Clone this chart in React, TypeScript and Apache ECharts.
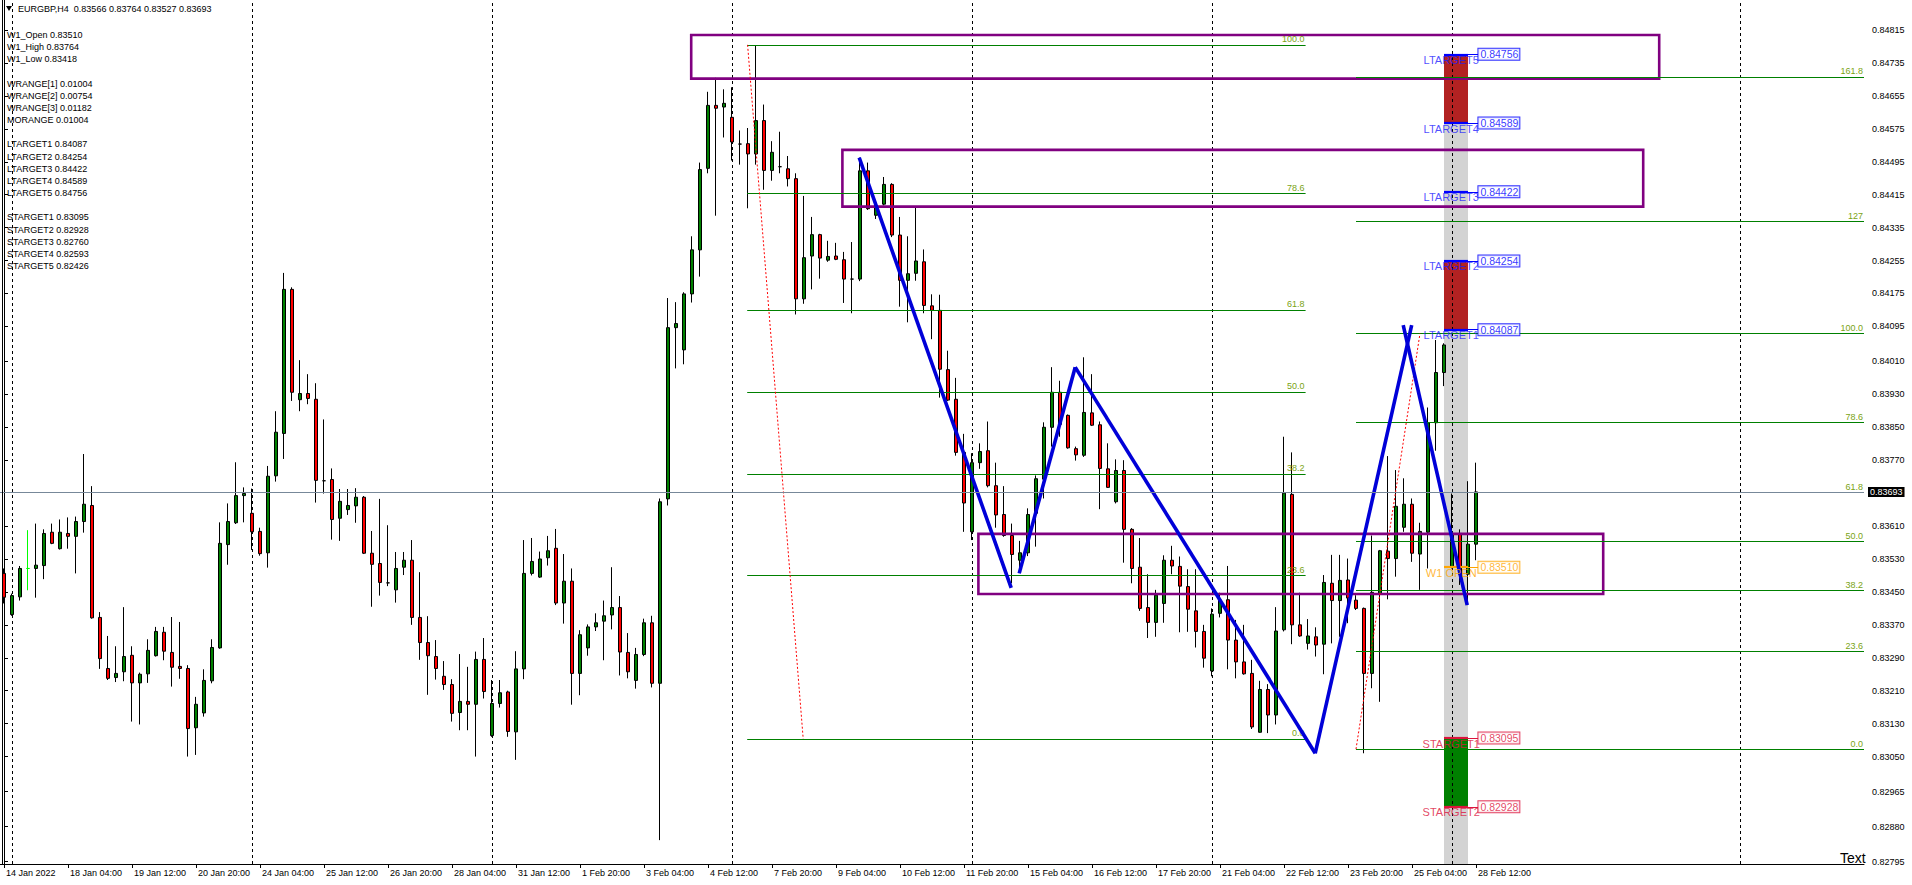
import React, { useEffect, useRef } from "react";
import * as echarts from "echarts";

const FONT = "'Liberation Sans', Arial, sans-serif";

// ---------- texts ----------
const headerText = "EURGBP,H4  0.83566 0.83764 0.83527 0.83693";
const infoLines = [
  "W1_Open 0.83510", "W1_High 0.83764", "W1_Low 0.83418", "",
  "WRANGE[1] 0.01004", "WRANGE[2] 0.00754", "WRANGE[3] 0.01182", "MORANGE 0.01004", "",
  "LTARGET1 0.84087", "LTARGET2 0.84254", "LTARGET3 0.84422", "LTARGET4 0.84589", "LTARGET5 0.84756", "",
  "STARGET1 0.83095", "STARGET2 0.82928", "STARGET3 0.82760", "STARGET4 0.82593", "STARGET5 0.82426",
];

// ---------- axes ----------
const xTickLabels = [
  "14 Jan 2022", "18 Jan 04:00", "19 Jan 12:00", "20 Jan 20:00", "24 Jan 04:00", "25 Jan 12:00",
  "26 Jan 20:00", "28 Jan 04:00", "31 Jan 12:00", "1 Feb 20:00", "3 Feb 04:00", "4 Feb 12:00",
  "7 Feb 20:00", "9 Feb 04:00", "10 Feb 12:00", "11 Feb 20:00", "15 Feb 04:00", "16 Feb 12:00",
  "17 Feb 20:00", "21 Feb 04:00", "22 Feb 12:00", "23 Feb 20:00", "25 Feb 04:00", "28 Feb 12:00",
];
const TICK_EVERY = 8;
const SLOT_COUNT = 233; // 185 bars + empty space on the right
const yTickValues = [
  0.84815, 0.84735, 0.84655, 0.84575, 0.84495, 0.84415, 0.84335, 0.84255, 0.84175, 0.84095,
  0.8401, 0.8393, 0.8385, 0.8377, 0.8361, 0.8353, 0.8345, 0.8337, 0.8329, 0.8321,
  0.8313, 0.8305, 0.82965, 0.8288, 0.82795,
];
const Y_MIN = 0.82789;
const Y_MAX = 0.84888;
const lastPrice = 0.83693;

// ---------- OHLC (H4 bars, 14 Jan 2022 20:00 .. 28 Feb 2022 12:00) ----------
const opens = [
  0.83495, 0.83395, 0.83438, 0.83507, 0.83507, 0.83514, 0.83595, 0.83555, 0.83592, 0.83585,
  0.83621, 0.8366, 0.83388, 0.83264, 0.83242, 0.83256, 0.83296, 0.83229, 0.83251, 0.83295,
  0.83352, 0.83303, 0.83269, 0.83264, 0.8312, 0.83156, 0.83234, 0.83314, 0.83565, 0.83618,
  0.83684, 0.83641, 0.83597, 0.83545, 0.83732, 0.83835, 0.84185, 0.83917, 0.83932, 0.83918,
  0.8372, 0.83723, 0.83629, 0.8365, 0.83659, 0.8368, 0.83544, 0.83519, 0.83472, 0.83455,
  0.8351, 0.83527, 0.83388, 0.83327, 0.83293, 0.83245, 0.83225, 0.83157, 0.83184, 0.83177,
  0.83286, 0.83101, 0.83179, 0.83207, 0.8311, 0.83263, 0.83495, 0.83486, 0.83533, 0.83556,
  0.83423, 0.83476, 0.83252, 0.83314, 0.83365, 0.83379, 0.83394, 0.83412, 0.83303, 0.83235,
  0.83298, 0.83375, 0.83228, 0.83676, 0.84092, 0.84038, 0.84174, 0.84281, 0.84479, 0.84632,
  0.84628, 0.84603, 0.84538, 0.84539, 0.84514, 0.84595, 0.84474, 0.84483, 0.84478, 0.84454,
  0.84162, 0.84266, 0.84318, 0.84256, 0.84266, 0.84257, 0.8421, 0.8421, 0.84473, 0.84365,
  0.84392, 0.8444, 0.84317, 0.84207, 0.84224, 0.84252, 0.84145, 0.84134, 0.8399, 0.83918,
  0.83789, 0.83596, 0.83764, 0.83793, 0.83708, 0.83638, 0.83587, 0.83527, 0.83545, 0.83641,
  0.83724, 0.8385, 0.83935, 0.83879, 0.83798, 0.83782, 0.83885, 0.83856, 0.83749, 0.83669,
  0.83745, 0.83602, 0.8351, 0.83412, 0.83376, 0.83422, 0.83527, 0.83512, 0.83463, 0.83404,
  0.83354, 0.83258, 0.83398, 0.83431, 0.83333, 0.8328, 0.83252, 0.83109, 0.83213, 0.83151,
  0.83358, 0.83687, 0.8337, 0.83325, 0.83341, 0.83323, 0.83471, 0.83429, 0.83479, 0.8343,
  0.8341, 0.83252, 0.83446, 0.83549, 0.83531, 0.83607, 0.83663, 0.83542, 0.83595, 0.83861,
  0.83983, 0.8351, 0.83592, 0.83493, 0.83566,
];
const highs = [
  0.83507, 0.83446, 0.83513, 0.836, 0.83616, 0.83602, 0.83616, 0.83626, 0.83631, 0.83633,
  0.83785, 0.83707, 0.83401, 0.83343, 0.83318, 0.83413, 0.83318, 0.83254, 0.83335, 0.83365,
  0.83365, 0.83389, 0.83377, 0.83272, 0.83195, 0.83262, 0.83335, 0.83619, 0.83665, 0.83765,
  0.83704, 0.83701, 0.83606, 0.83756, 0.83889, 0.84225, 0.8419, 0.84013, 0.83979, 0.83957,
  0.83869, 0.8375, 0.837, 0.837, 0.83702, 0.83683, 0.83598, 0.83676, 0.83612, 0.83547,
  0.83547, 0.83576, 0.83498, 0.83391, 0.83333, 0.83282, 0.83238, 0.83299, 0.83268, 0.83305,
  0.83338, 0.83236, 0.83236, 0.8321, 0.83306, 0.83576, 0.83581, 0.83548, 0.83586, 0.83603,
  0.83542, 0.83507, 0.83357, 0.83371, 0.83398, 0.83429, 0.8351, 0.8344, 0.8335, 0.83314,
  0.83385, 0.83392, 0.83677, 0.84164, 0.84154, 0.84178, 0.84314, 0.84493, 0.84665, 0.84699,
  0.84671, 0.84676, 0.84571, 0.84577, 0.84778, 0.84634, 0.84545, 0.84568, 0.84509, 0.84467,
  0.84412, 0.84361, 0.8432, 0.84303, 0.84298, 0.84276, 0.843, 0.84505, 0.84493, 0.84397,
  0.84458, 0.84443, 0.84361, 0.84314, 0.84384, 0.84282, 0.84173, 0.84172, 0.84036, 0.8397,
  0.83834, 0.83787, 0.83811, 0.83864, 0.83764, 0.83707, 0.83616, 0.83574, 0.83653, 0.83733,
  0.83862, 0.83996, 0.83963, 0.83881, 0.83803, 0.8402, 0.83979, 0.83864, 0.83811, 0.83772,
  0.8377, 0.83605, 0.83581, 0.83493, 0.83455, 0.83539, 0.83562, 0.83536, 0.83505, 0.83505,
  0.8337, 0.8341, 0.83448, 0.83513, 0.83382, 0.8337, 0.83285, 0.83234, 0.83226, 0.83413,
  0.83827, 0.83789, 0.83448, 0.83384, 0.83364, 0.83491, 0.8354, 0.8354, 0.83531, 0.83442,
  0.83412, 0.83587, 0.83552, 0.8378, 0.83746, 0.83726, 0.83677, 0.83618, 0.83898, 0.84062,
  0.84054, 0.83689, 0.83602, 0.83719, 0.83764,
];
const lows = [
  0.83422, 0.83392, 0.83429, 0.83454, 0.83436, 0.83481, 0.83566, 0.83553, 0.83555, 0.83495,
  0.83594, 0.83385, 0.83263, 0.83236, 0.83231, 0.83233, 0.83135, 0.83128, 0.83229, 0.83293,
  0.83284, 0.8322, 0.83239, 0.8305, 0.83054, 0.83147, 0.83228, 0.83312, 0.83516, 0.83615,
  0.83619, 0.83552, 0.83538, 0.83509, 0.83718, 0.83773, 0.83914, 0.83889, 0.83906, 0.83667,
  0.83689, 0.83577, 0.83574, 0.83637, 0.83618, 0.83542, 0.83414, 0.83441, 0.83464, 0.83424,
  0.83491, 0.8337, 0.83285, 0.832, 0.83237, 0.83212, 0.83135, 0.83114, 0.83114, 0.8305,
  0.83191, 0.83098, 0.83169, 0.83098, 0.83042, 0.83238, 0.8349, 0.83484, 0.83514, 0.83418,
  0.83373, 0.83176, 0.83199, 0.83295, 0.83355, 0.83284, 0.83359, 0.83247, 0.8324, 0.83215,
  0.83294, 0.83218, 0.82847, 0.8366, 0.83993, 0.84003, 0.84153, 0.84216, 0.84467, 0.84364,
  0.84554, 0.84498, 0.84488, 0.84382, 0.84488, 0.84427, 0.84449, 0.84467, 0.84435, 0.84124,
  0.8415, 0.84185, 0.84211, 0.84252, 0.84256, 0.84152, 0.84127, 0.84205, 0.84378, 0.84356,
  0.84389, 0.84312, 0.84143, 0.84105, 0.84206, 0.84127, 0.84064, 0.83922, 0.83914, 0.83781,
  0.83596, 0.83576, 0.83749, 0.83704, 0.83606, 0.83584, 0.83471, 0.83498, 0.83537, 0.8356,
  0.83677, 0.83803, 0.83827, 0.83798, 0.83769, 0.83778, 0.83853, 0.83651, 0.83703, 0.83665,
  0.83521, 0.83471, 0.83404, 0.83338, 0.83341, 0.83375, 0.83493, 0.83352, 0.83353, 0.83315,
  0.83266, 0.83245, 0.83388, 0.83262, 0.8324, 0.83249, 0.83117, 0.83108, 0.83107, 0.83128,
  0.83354, 0.83323, 0.83341, 0.8331, 0.83293, 0.8325, 0.83325, 0.83341, 0.83374, 0.83406,
  0.83058, 0.83216, 0.83183, 0.83432, 0.83487, 0.83596, 0.83523, 0.83455, 0.83507, 0.83793,
  0.8395, 0.83507, 0.83467, 0.83418, 0.83527,
];
const closes = [
  0.83437, 0.83441, 0.83507, 0.83507, 0.83515, 0.83592, 0.83568, 0.83595, 0.83585, 0.83621,
  0.83663, 0.83387, 0.83288, 0.8324, 0.83252, 0.83293, 0.83229, 0.8325, 0.83308, 0.83354,
  0.83306, 0.83267, 0.83264, 0.83118, 0.83177, 0.83235, 0.83315, 0.83568, 0.83621, 0.83684,
  0.83689, 0.83596, 0.83543, 0.83731, 0.83838, 0.84185, 0.83935, 0.83932, 0.8392, 0.83721,
  0.8372, 0.83626, 0.8367, 0.8366, 0.8368, 0.83544, 0.83517, 0.83473, 0.83472, 0.83507,
  0.83527, 0.83388, 0.83327, 0.83295, 0.83264, 0.83225, 0.83155, 0.83184, 0.83177, 0.83286,
  0.83208, 0.83179, 0.83205, 0.83111, 0.83263, 0.83495, 0.83524, 0.8353, 0.8355, 0.83423,
  0.83476, 0.83252, 0.83346, 0.83365, 0.83375, 0.83392, 0.83412, 0.83304, 0.83256, 0.83298,
  0.83375, 0.83228, 0.83669, 0.84092, 0.84102, 0.84174, 0.84281, 0.84476, 0.84632, 0.84625,
  0.84637, 0.84543, 0.84538, 0.84514, 0.84595, 0.84474, 0.84518, 0.84483, 0.84454, 0.84162,
  0.84262, 0.84318, 0.84261, 0.84265, 0.84258, 0.8421, 0.8421, 0.84473, 0.84381, 0.84389,
  0.8444, 0.84317, 0.84207, 0.84223, 0.84254, 0.84146, 0.84134, 0.83991, 0.83916, 0.83789,
  0.83666, 0.83764, 0.83791, 0.83708, 0.83637, 0.83587, 0.83541, 0.83545, 0.83638, 0.83725,
  0.8385, 0.83935, 0.83857, 0.838, 0.83783, 0.83886, 0.83855, 0.8375, 0.83704, 0.83745,
  0.83602, 0.83507, 0.8341, 0.83376, 0.83442, 0.83527, 0.83513, 0.83464, 0.83408, 0.83354,
  0.83289, 0.83396, 0.8343, 0.83333, 0.8328, 0.83251, 0.83122, 0.83213, 0.83151, 0.83355,
  0.8369, 0.8337, 0.83343, 0.83343, 0.83321, 0.83473, 0.83429, 0.83478, 0.83435, 0.8341,
  0.83252, 0.83449, 0.8355, 0.83531, 0.83658, 0.83663, 0.83544, 0.83597, 0.83861, 0.83983,
  0.8405, 0.83592, 0.83493, 0.83566, 0.83693,
];
const limeDojiBar = 3;

// ---------- objects (bar index, price) ----------
const weekSeparatorBars = [1, 31, 61, 91, 121, 151, 181, 217];

const fib1Span = [92.9, 162.7];
const fib1Levels = ["0.0", "23.6", "38.2", "50.0", "61.8", "78.6", "100.0"];
const fib1Prices = [0.83093, 0.83491, 0.83737, 0.83936, 0.84135, 0.84418, 0.84779];
const fib1Base = [[92.95, 0.84779], [99.9, 0.83093]];

const fib2Span = [169.0, 232.5];
const fib2Levels = ["0.0", "23.6", "38.2", "50.0", "61.8", "78.6", "100.0", "127", "161.8"];
const fib2Prices = [0.83068, 0.83306, 0.83453, 0.83573, 0.83692, 0.83862, 0.84078, 0.8435, 0.84701];
const fib2Base = [[169.0, 0.83068], [177.0, 0.84078]];

const zigzagSegments = [
  [[106.9, 0.84505], [125.9, 0.8346]],
  [[126.9, 0.83495], [133.9, 0.83996]],
  [[133.9, 0.83996], [163.9, 0.83058]],
  [[163.9, 0.83058], [175.96, 0.84098]],
  [[174.9, 0.84098], [182.9, 0.83418]],
];

const zoneBoxes = [
  [[85.9, 0.84803], [206.9, 0.84697]],
  [[104.8, 0.84524], [204.9, 0.84386]],
  [[121.8, 0.83591], [199.9, 0.83445]],
];

const ltargetNames = ["LTARGET1", "LTARGET2", "LTARGET3", "LTARGET4", "LTARGET5"];
const ltargetLevels = [0.84087, 0.84254, 0.84422, 0.84589, 0.84756];
const stargetNames = ["STARGET1", "STARGET2"];
const stargetLevels = [0.83095, 0.82928];
const w1OpenLevel = 0.8351;
const targetColumn = [180, 183];
const targetLabelBar = 180.9;
const targetBoxBar = 184.3;

const C_BLUE = "#0000FF";
const C_LT = "#1E1EFF";
const C_ST = "#DC143C";
const C_W1 = "#FFA500";
const C_FIB = "#008000";
const C_FIBTXT = "#7AA314";
const C_PURPLE = "#800080";

function helper(extra: any) {
  return { type: "line", xAxisIndex: 1, yAxisIndex: 0, data: [], silent: true, ...extra };
}

function buildOption() {
  const candleData = opens.map((o, i) => {
    const v = [o, closes[i], lows[i], highs[i]];
    if (i === limeDojiBar) {
      return { value: v, itemStyle: { borderColor: "#00FF00", borderColor0: "#00FF00", borderColorDoji: "#00FF00" } };
    }
    return v;
  });

  const tickFn = (i: number) => i % TICK_EVERY === 0 && i / TICK_EVERY < xTickLabels.length;

  const targetLine = (p: number, color: string) => [
    [{ coord: [targetColumn[0], p], lineStyle: { color, width: 2.2 } }, { coord: [targetColumn[1], p] }],
    [{ coord: [targetColumn[1], p], lineStyle: { color, width: 1 } }, { coord: [targetBoxBar, p] }],
  ];

  const nameLabel = (color: string) => ({
    show: true, position: "bottom", distance: 0, formatter: "{b}", color,
    fontSize: 11, fontFamily: FONT,
  });
  const boxLabel = (color: string) => ({
    show: true, position: "right", distance: 0,
    formatter: (p: any) => p.value[1].toFixed(5), color,
    fontSize: 10.5, fontFamily: FONT, lineHeight: 11,
    backgroundColor: "#fff", borderColor: color, borderWidth: 1, padding: [0, 1, 0, 2],
  });

  const graphics: any[] = [
    { type: "line", shape: { x1: 2.5, y1: 0, x2: 2.5, y2: 864 }, style: { stroke: "#000", lineWidth: 1 }, z: 20 },
    { type: "polygon", shape: { points: [[6, 6], [12, 6], [9, 11]] }, style: { fill: "#000" }, z: 20 },
    { type: "text", x: 18, y: 9, style: { text: headerText, fill: "#000", fontSize: 9, fontFamily: FONT, verticalAlign: "middle" }, z: 20 },
    { type: "text", x: 1840, y: 858, style: { text: "Text", fill: "#000", fontSize: 14, fontFamily: FONT, verticalAlign: "middle" }, z: 20 },
  ];
  infoLines.forEach((t, i) => {
    if (!t) return;
    graphics.push({
      type: "text", x: 7, y: 35 + i * 12.16,
      style: { text: t, fill: "#000", fontSize: 9, fontFamily: FONT, verticalAlign: "middle" }, z: 20,
    });
  });

  return {
    animation: false,
    backgroundColor: "#ffffff",
    grid: { left: 0, top: 0, width: SLOT_COUNT * 8, height: 864 },
    xAxis: [
      {
        type: "category",
        data: Array.from({ length: SLOT_COUNT }, (_, i) => String(i)),
        boundaryGap: true,
        axisLine: { show: true, lineStyle: { color: "#000", width: 1 } },
        axisTick: { show: true, interval: tickFn, alignWithLabel: true, length: 4, lineStyle: { color: "#000" } },
        axisLabel: {
          show: true, interval: tickFn, align: "left", margin: 4, padding: [0, 0, 0, 2],
          formatter: (_v: string, i: number) => (tickFn(i) ? xTickLabels[i / TICK_EVERY] : ""),
          color: "#000", fontSize: 9, fontFamily: FONT,
        },
        splitLine: { show: false },
      },
      { type: "value", min: -0.5, max: SLOT_COUNT - 0.5, show: false },
    ],
    yAxis: [
      {
        type: "value", min: Y_MIN, max: Y_MAX, position: "right", offset: 2,
        axisLine: { show: true, lineStyle: { color: "#000", width: 1 } },
        axisTick: { show: true, length: 4, customValues: yTickValues, lineStyle: { color: "#000" } },
        axisLabel: {
          show: true, customValues: yTickValues, formatter: (v: number) => v.toFixed(5),
          color: "#000", fontSize: 9, fontFamily: FONT, margin: 6,
        },
        splitLine: { show: false },
      },
    ],
    graphic: graphics,
    series: [
      // target column (background)
      helper({
        z: 1,
        markArea: {
          silent: true, z: 1,
          data: [
            [{ coord: [targetColumn[0], ltargetLevels[4]], itemStyle: { color: "#D3D3D3" } }, { coord: [targetColumn[1], Y_MIN] }],
            [{ coord: [targetColumn[0], ltargetLevels[4]], itemStyle: { color: "#B22222" } }, { coord: [targetColumn[1], ltargetLevels[3]] }],
            [{ coord: [targetColumn[0], ltargetLevels[1]], itemStyle: { color: "#B22222" } }, { coord: [targetColumn[1], ltargetLevels[0]] }],
            [{ coord: [targetColumn[0], stargetLevels[0]], itemStyle: { color: "#008000" } }, { coord: [targetColumn[1], stargetLevels[1]] }],
          ],
        },
      }),
      // week separators
      helper({
        z: 2,
        markLine: {
          silent: true, z: 2, symbol: ["none", "none"],
          label: { show: false },
          lineStyle: { color: "#000", type: [3, 3], width: 1 },
          data: weekSeparatorBars.map((b) => ({ xAxis: b })),
        },
      }),
      // bid line with price label
      helper({
        z: 2,
        markLine: {
          silent: true, z: 8, symbol: ["none", "none"],
          lineStyle: { color: "#778899", type: "solid", width: 1 },
          label: {
            show: true, position: "end", distance: 4, formatter: lastPrice.toFixed(5),
            color: "#fff", backgroundColor: "#000", padding: [1, 2, 0, 2],
            fontSize: 9, fontFamily: FONT,
          },
          data: [[{ coord: [-0.5, lastPrice] }, { coord: [SLOT_COUNT - 0.5, lastPrice] }]],
        },
      }),
      // candles
      {
        type: "candlestick", xAxisIndex: 0, yAxisIndex: 0, z: 3, barWidth: 4, silent: true,
        data: candleData,
        itemStyle: {
          color: "#008000", color0: "#FF0000", borderColor: "#000", borderColor0: "#000",
          borderColorDoji: "#000", borderWidth: 1,
        },
      },
      // fibonacci 1
      helper({
        z: 5,
        markLine: {
          silent: true, z: 5, symbol: ["none", "none"],
          lineStyle: { color: C_FIB, width: 1, type: "solid" },
          label: { show: true, position: "insideEndTop", formatter: "{b}", color: C_FIBTXT, fontSize: 9, fontFamily: FONT, distance: 1 },
          data: fib1Prices.map((p, i) => [{ coord: [fib1Span[0], p], name: fib1Levels[i] }, { coord: [fib1Span[1], p] }]),
        },
      }),
      // fibonacci 2
      helper({
        z: 5,
        markLine: {
          silent: true, z: 5, symbol: ["none", "none"],
          lineStyle: { color: C_FIB, width: 1, type: "solid" },
          label: { show: true, position: "insideEndTop", formatter: "{b}", color: C_FIBTXT, fontSize: 9, fontFamily: FONT, distance: 1 },
          data: fib2Prices.map((p, i) => [{ coord: [fib2Span[0], p], name: fib2Levels[i] }, { coord: [fib2Span[1], p] }]),
        },
      }),
      // fib base lines (red dotted)
      helper({
        z: 5,
        markLine: {
          silent: true, z: 5, symbol: ["none", "none"], label: { show: false },
          lineStyle: { color: "#FF0000", width: 1, type: [2, 2] },
          data: [
            [{ coord: fib1Base[0] }, { coord: fib1Base[1] }],
            [{ coord: fib2Base[0] }, { coord: fib2Base[1] }],
          ],
        },
      }),
      // zone rectangles
      helper({
        z: 5,
        markArea: {
          silent: true, z: 5,
          itemStyle: { color: "rgba(0,0,0,0)", borderColor: C_PURPLE, borderWidth: 2.6 },
          data: zoneBoxes.map((b) => [{ coord: b[0] }, { coord: b[1] }]),
        },
      }),
      // target lines
      helper({
        z: 6,
        markLine: {
          silent: true, z: 6, symbol: ["none", "none"], label: { show: false },
          lineStyle: { type: "solid" },
          data: [
            ...ltargetLevels.flatMap((p) => targetLine(p, C_BLUE)),
            ...stargetLevels.flatMap((p) => targetLine(p, C_ST)),
            ...targetLine(w1OpenLevel, C_W1),
          ],
        },
      }),
      // zigzag
      ...zigzagSegments.map((seg) => ({
        type: "line", xAxisIndex: 1, yAxisIndex: 0, z: 6, silent: true,
        data: seg, symbol: "none", showSymbol: false,
        lineStyle: { color: "#0000D8", width: 3.6 },
      })),
      // target labels
      {
        type: "scatter", xAxisIndex: 1, yAxisIndex: 0, z: 7, silent: true, symbolSize: 0,
        itemStyle: { color: "rgba(0,0,0,0)" },
        data: ltargetLevels.map((p, i) => ({ name: ltargetNames[i], value: [targetLabelBar, p] })),
        label: nameLabel(C_LT),
      },
      {
        type: "scatter", xAxisIndex: 1, yAxisIndex: 0, z: 7, silent: true, symbolSize: 0,
        itemStyle: { color: "rgba(0,0,0,0)" },
        data: stargetLevels.map((p, i) => ({ name: stargetNames[i], value: [targetLabelBar, p] })),
        label: nameLabel(C_ST),
      },
      {
        type: "scatter", xAxisIndex: 1, yAxisIndex: 0, z: 7, silent: true, symbolSize: 0,
        itemStyle: { color: "rgba(0,0,0,0)" },
        data: [{ name: "W1 OPEN", value: [targetLabelBar, w1OpenLevel] }],
        label: nameLabel(C_W1),
      },
      {
        type: "scatter", xAxisIndex: 1, yAxisIndex: 0, z: 7, silent: true, symbolSize: 0,
        itemStyle: { color: "rgba(0,0,0,0)" },
        data: ltargetLevels.map((p) => ({ value: [targetBoxBar, p] })),
        label: boxLabel(C_BLUE),
      },
      {
        type: "scatter", xAxisIndex: 1, yAxisIndex: 0, z: 7, silent: true, symbolSize: 0,
        itemStyle: { color: "rgba(0,0,0,0)" },
        data: stargetLevels.map((p) => ({ value: [targetBoxBar, p] })),
        label: boxLabel(C_ST),
      },
      {
        type: "scatter", xAxisIndex: 1, yAxisIndex: 0, z: 7, silent: true, symbolSize: 0,
        itemStyle: { color: "rgba(0,0,0,0)" },
        data: [{ value: [targetBoxBar, w1OpenLevel] }],
        label: boxLabel(C_W1),
      },
    ],
  };
}

export default function App() {
  const ref = useRef<HTMLDivElement | null>(null);
  useEffect(() => {
    if (!ref.current) return;
    const chart = echarts.init(ref.current, undefined, { renderer: "svg" });
    chart.setOption(buildOption() as any);
    return () => chart.dispose();
  }, []);
  return (
    <>
      <style>{"html,body{margin:0;padding:0;overflow:hidden;background:#fff}"}</style>
      <div ref={ref} style={{ width: 1912, height: 885 }} />
    </>
  );
}
